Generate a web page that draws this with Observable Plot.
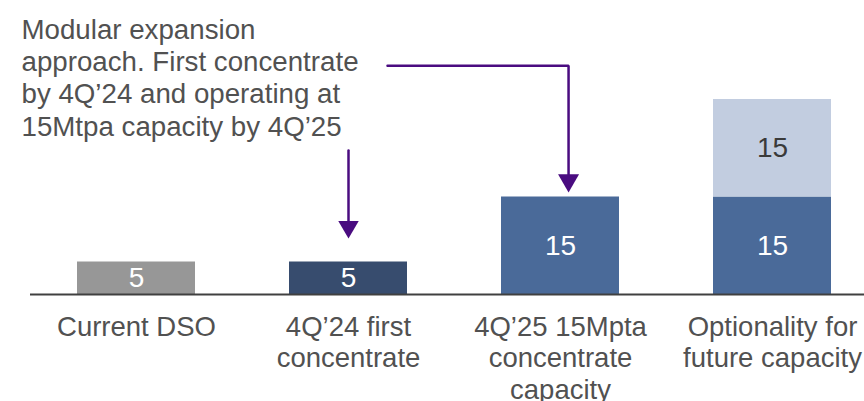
<!DOCTYPE html>
<html>
<head>
<meta charset="utf-8">
<script src="https://cdn.jsdelivr.net/npm/d3@7"></script>
<script src="https://cdn.jsdelivr.net/npm/@observablehq/plot@0.6"></script>
<style>
  html, body { margin: 0; padding: 0; background: #ffffff; }
  #chart svg { display: block; }
</style>
</head>
<body>
<div id="chart"></div>
<script>
// ---- data ----
const categories = [
  "Current DSO",
  "4Q’24 first\nconcentrate",
  "4Q’25 15Mpta\nconcentrate\ncapacity",
  "Optionality for\nfuture capacity"
];
const baseCapacity = [5, 5, 15, 15];        // Mtpa
const optionalCapacity = [0, 0, 0, 15];     // Mtpa
const segmentKind = ["current", "first", "base", "base"];

const annotationText = "Modular expansion\napproach. First concentrate\nby 4Q’24 and operating at\n15Mtpa capacity by 4Q’25";

// annotation arrows (x in category-index units, y in Mtpa units)
const arrowShort = [{x: 1, y: 22.15}, {x: 1, y: 10}];
const arrowShortTip = [{x: 1, y: 8.6}];
const arrowLong = [{x: 1.184, y: 35.2}, {x: 2.038, y: 35.2}, {x: 2.038, y: 17.5}];
const arrowLongTip = [{x: 2.038, y: 15.7}];

// ---- build rows ----
const rows = [];
categories.forEach((c, i) => {
  rows.push({i, label: c, kind: segmentKind[i], y1: 0, y2: baseCapacity[i], value: baseCapacity[i]});
  if (optionalCapacity[i] > 0) {
    rows.push({i, label: c, kind: "option", y1: baseCapacity[i], y2: baseCapacity[i] + optionalCapacity[i], value: optionalCapacity[i]});
  }
});
const labelRows = categories.map((c, i) => ({i, label: c}));

const purple = "#4a0c80";
const textGray = "#515151";

const chart = Plot.plot({
  width: 864,
  height: 401,
  marginLeft: 30,
  marginRight: 0,
  marginTop: 0,
  marginBottom: 107,
  style: {fontFamily: "'Liberation Sans', Arial, sans-serif", background: "#ffffff"},
  x: {domain: [-0.5, 3.5], range: [30, 878], axis: null},
  y: {domain: [0, 30], range: [294, 99], axis: null},
  color: {
    domain: ["current", "first", "base", "option"],
    range: ["#979797", "#374c6e", "#4a6a99", "#c2cde0"]
  },
  marks: [
    Plot.rectY(rows, {
      x1: d => d.i - 0.5, x2: d => d.i + 0.5,
      y1: "y1", y2: "y2",
      fill: "kind",
      insetLeft: 47, insetRight: 47
    }),
    Plot.ruleY([0], {stroke: "#404040", strokeWidth: 2}),
    Plot.text(rows.filter(d => d.kind !== "option"), {
      x: "i", y: d => (d.y1 + d.y2) / 2, text: d => String(d.value),
      fill: "white", fontSize: 28
    }),
    Plot.text(rows.filter(d => d.kind === "option"), {
      x: "i", y: d => (d.y1 + d.y2) / 2, text: d => String(d.value),
      fill: "#3a3a3a", fontSize: 28
    }),
    Plot.text(labelRows, {
      x: "i", y: 0, text: "label", dy: 19,
      lineAnchor: "top", lineHeight: 1.145,
      fill: textGray, fontSize: 27.5
    }),
    Plot.text([annotationText], {
      x: -0.5425, y: 42.9, text: d => d,
      textAnchor: "start", lineAnchor: "top", lineHeight: 1.168,
      fill: textGray, fontSize: 27.7
    }),
    Plot.line(arrowShort, {x: "x", y: "y", stroke: purple, strokeWidth: 2.5}),
    Plot.line(arrowLong, {x: "x", y: "y", stroke: purple, strokeWidth: 2.5, strokeLinejoin: "miter", curve: "linear"}),
    Plot.dot(arrowShortTip, {x: "x", y: "y", symbol: "triangle", rotate: 180, r: 7.6, dy: -11.8, fill: purple, stroke: "none"}),
    Plot.dot(arrowLongTip, {x: "x", y: "y", symbol: "triangle", rotate: 180, r: 7.8, dy: -12.1, fill: purple, stroke: "none"})
  ]
});

document.getElementById("chart").appendChild(chart);
</script>
</body>
</html>
